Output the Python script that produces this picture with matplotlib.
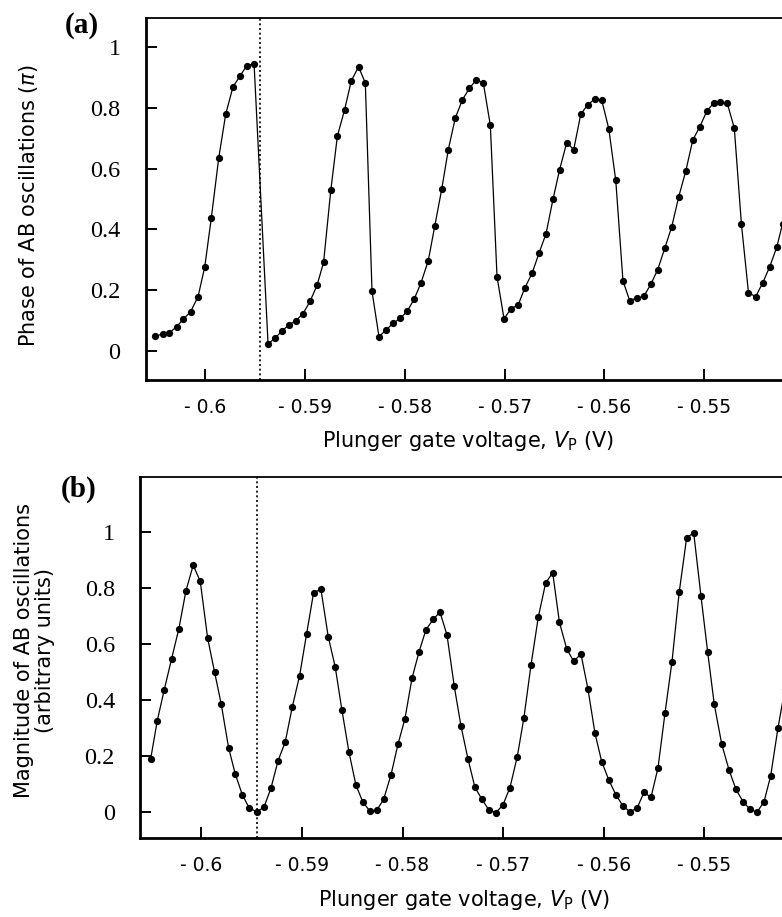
import matplotlib
matplotlib.use('Agg')
import matplotlib.pyplot as plt

plt.rcParams['mathtext.fontset'] = 'custom'
plt.rcParams['mathtext.rm'] = 'DejaVu Sans'
plt.rcParams['mathtext.it'] = 'DejaVu Sans:italic'

############################ DONNEES (a) : PHASE ############################
vp_phase = [-0.60501, -0.60424, -0.60358, -0.60283, -0.60217, -0.60145, -0.60070, -0.60003,
            -0.59937, -0.59863, -0.59793, -0.59720, -0.59653, -0.59582, -0.59509,
            -0.59369, -0.59299, -0.59229, -0.59159, -0.59089, -0.59019, -0.58949, -0.58878,
            -0.58813, -0.58741, -0.58675, -0.58603, -0.58535, -0.58463, -0.58395, -0.58328,
            -0.58258, -0.58187, -0.58117, -0.58047, -0.57977, -0.57907, -0.57839, -0.57765,
            -0.57700, -0.57630, -0.57564, -0.57494, -0.57423, -0.57353, -0.57283, -0.57213,
            -0.57143, -0.57076, -0.57006, -0.56936, -0.56864, -0.56796, -0.56725, -0.56655,
            -0.56585, -0.56515, -0.56450, -0.56378, -0.56308, -0.56238, -0.56168, -0.56098,
            -0.56027, -0.55957, -0.55887, -0.55815, -0.55748, -0.55677, -0.55607, -0.55537,
            -0.55467, -0.55397, -0.55326, -0.55256, -0.55186, -0.55116, -0.55046, -0.54976,
            -0.54906, -0.54840, -0.54770, -0.54700, -0.54629, -0.54558, -0.54486, -0.54416,
            -0.54346, -0.54275, -0.54217]
phase = [0.047, 0.055, 0.059, 0.079, 0.104, 0.128, 0.178, 0.276,
         0.438, 0.635, 0.780, 0.870, 0.904, 0.940, 0.946,
         0.022, 0.041, 0.065, 0.085, 0.099, 0.122, 0.162, 0.216,
         0.291, 0.528, 0.707, 0.794, 0.890, 0.936, 0.883, 0.195,
         0.046, 0.068, 0.090, 0.106, 0.129, 0.169, 0.222, 0.296,
         0.410, 0.532, 0.663, 0.767, 0.827, 0.865, 0.893, 0.882,
         0.743, 0.243, 0.105, 0.138, 0.151, 0.208, 0.255, 0.322,
         0.386, 0.500, 0.596, 0.686, 0.663, 0.779, 0.811, 0.829,
         0.825, 0.732, 0.561, 0.230, 0.165, 0.173, 0.179, 0.218,
         0.267, 0.337, 0.409, 0.508, 0.592, 0.694, 0.738, 0.789,
         0.817, 0.819, 0.815, 0.734, 0.418, 0.191, 0.178, 0.223,
         0.276, 0.341, 0.418]

########################## DONNEES (b) : AMPLITUDE ##########################
vp_mag = [-0.60504, -0.60438, -0.60369, -0.60295, -0.60223, -0.60153, -0.60081, -0.60011,
          -0.59937, -0.59868, -0.59802, -0.59729, -0.59663, -0.59593, -0.59524, -0.59447,
          -0.59378, -0.59308, -0.59238, -0.59166, -0.59096, -0.59023, -0.58953, -0.58884,
          -0.58811, -0.58738, -0.58669, -0.58602, -0.58532, -0.58463, -0.58396, -0.58327,
          -0.58257, -0.58188, -0.58115, -0.58045, -0.57976, -0.57906, -0.57837, -0.57767,
          -0.57694, -0.57628, -0.57558, -0.57486, -0.57419, -0.57349, -0.57280, -0.57210,
          -0.57141, -0.57071, -0.57002, -0.56932, -0.56859, -0.56793, -0.56723, -0.56650,
          -0.56577, -0.56507, -0.56440, -0.56368, -0.56299, -0.56226, -0.56156, -0.56087,
          -0.56020, -0.55948, -0.55878, -0.55808, -0.55739, -0.55669, -0.55600, -0.55530,
          -0.55460, -0.55391, -0.55321, -0.55249, -0.55175, -0.55105, -0.55033, -0.54966,
          -0.54901, -0.54827, -0.54754, -0.54685, -0.54615, -0.54546, -0.54476, -0.54406,
          -0.54340, -0.54267, -0.54198]
magnitude = [0.189, 0.326, 0.436, 0.548, 0.655, 0.790, 0.881, 0.824,
             0.620, 0.499, 0.385, 0.229, 0.136, 0.062, 0.014, 0.001,
             0.017, 0.085, 0.182, 0.250, 0.375, 0.487, 0.637, 0.783,
             0.795, 0.625, 0.518, 0.363, 0.213, 0.096, 0.037, 0.004,
             0.006, 0.045, 0.132, 0.242, 0.333, 0.477, 0.570, 0.651,
             0.688, 0.714, 0.632, 0.450, 0.307, 0.189, 0.088, 0.045,
             0.007, -0.002, 0.025, 0.087, 0.198, 0.337, 0.524, 0.696,
             0.818, 0.854, 0.677, 0.583, 0.538, 0.564, 0.438, 0.282,
             0.180, 0.113, 0.061, 0.021, 0.001, 0.013, 0.070, 0.052,
             0.158, 0.352, 0.537, 0.786, 0.980, 0.996, 0.771, 0.570,
             0.385, 0.243, 0.150, 0.081, 0.037, 0.010, -0.001, 0.037,
             0.129, 0.301, 0.44]

# ligne pointillee verticale
vp_marker = -0.5945

x_ticks = [-0.6, -0.59, -0.58, -0.57, -0.56, -0.55]
x_ticklabels = ['- 0.6', '- 0.59', '- 0.58', '- 0.57', '- 0.56', '- 0.55']
y_ticks = [0, 0.2, 0.4, 0.6, 0.8, 1]
y_ticklabels = ['0', '0.2', '0.4', '0.6', '0.8', '1']

################################ GRAPHIQUE ##################################
fig = plt.figure(figsize=(7.82, 9.17), dpi=100)
ax1 = fig.add_axes([0.1861, 0.5856, 0.8165, 0.3948])
ax2 = fig.add_axes([0.1790, 0.0861, 0.8235, 0.3937])


def habillage(ax, xlim, ylim):
    ax.set_xlim(*xlim)
    ax.set_ylim(*ylim)
    ax.set_xticks(x_ticks)
    ax.set_xticklabels(x_ticklabels, family='DejaVu Sans', fontsize=13.5)
    ax.set_yticks(y_ticks)
    ax.set_yticklabels(y_ticklabels, family='Liberation Serif', fontsize=17.5)
    ax.tick_params(direction='in', length=8, width=1.4, top=False, right=False)
    ax.tick_params(axis='y', pad=18)
    ax.tick_params(axis='x', pad=13)
    ax.spines['left'].set_linewidth(2.0)
    ax.spines['bottom'].set_linewidth(2.0)
    ax.spines['top'].set_linewidth(1.3)
    ax.spines['right'].set_visible(False)
    ax.axvline(vp_marker, color='black', lw=1.2, ls=(0, (1.2, 1.6)))


ax1.plot(vp_phase, phase, '-o', color='black', lw=0.9, ms=5.2, mew=0)
habillage(ax1, (-0.60596, -0.54202), (-0.097, 1.097))

ax2.plot(vp_mag, magnitude, '-o', color='black', lw=0.9, ms=5.2, mew=0)
habillage(ax2, (-0.60610, -0.54208), (-0.093, 1.196))

# titres d'axes
fig.text(0.037, 0.776, r'Phase of AB oscillations $(\pi)$', rotation=90,
         ha='center', va='center', family='DejaVu Sans', fontsize=15)
fig.text(0.044, 0.291, 'Magnitude of AB oscillations\n(arbitrary units)', rotation=90,
         ha='center', va='center', family='DejaVu Sans', fontsize=15, linespacing=1.05)
fig.text(0.598, 0.519, r'Plunger gate voltage, $V_\mathrm{P}$ (V)',
         ha='center', va='center', family='DejaVu Sans', fontsize=15)
fig.text(0.593, 0.019, r'Plunger gate voltage, $V_\mathrm{P}$ (V)',
         ha='center', va='center', family='DejaVu Sans', fontsize=15)

# etiquettes des panneaux
fig.text(0.105, 0.972, '(a)', ha='center', va='center', family='Liberation Serif',
         fontweight='bold', fontsize=21)
fig.text(0.101, 0.466, '(b)', ha='center', va='center', family='Liberation Serif',
         fontweight='bold', fontsize=21)

fig.savefig('out.png', dpi=100)
